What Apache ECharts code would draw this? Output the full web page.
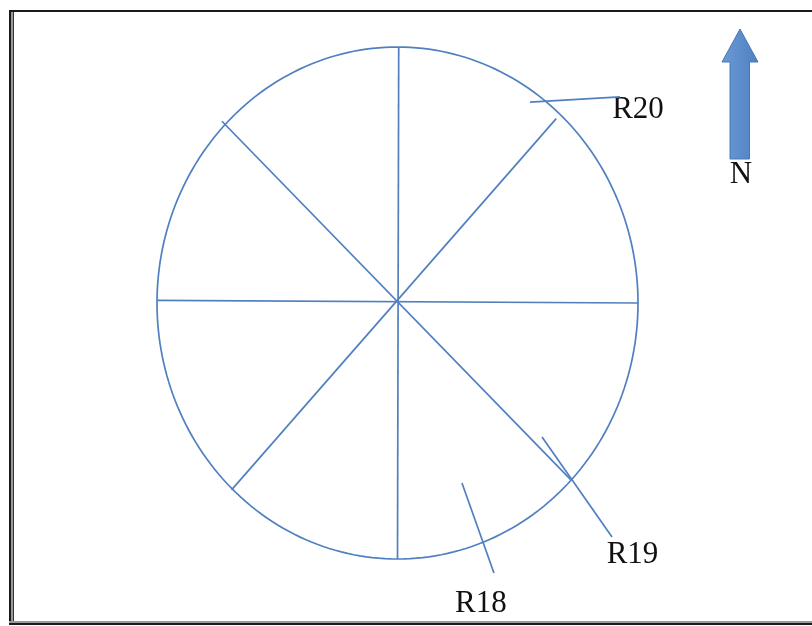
<!DOCTYPE html>
<html>
<head>
<meta charset="utf-8">
<script src="https://cdn.jsdelivr.net/npm/echarts@6/dist/echarts.min.js"></script>
<style>
  html, body { margin: 0; padding: 0; background: #fff; }
  #chart { width: 812px; height: 626px; }
</style>
</head>
<body>
<div id="chart"></div>
<script>
// diagram units: circle centre at 0,0, radius 1 on both axes
var spokes = [
  [[-1, 0.01], [1, 0]],
  [[0.005, 1], [0, -1]],
  [[-0.73, 0.71], [0.72, -0.69]],
  [[0.66, 0.72], [-0.69, -0.73]]
];
var labelNames = ['R20', 'R19', 'R18'];
var labelPoints = [[1.0, 0.754], [0.977, -0.984], [0.347, -1.176]];
var leaders = [
  [[0.551, 0.785], [0.925, 0.805]],
  [[0.601, -0.523], [0.892, -0.914]],
  [[0.268, -0.703], [0.401, -1.055]]
];
var northLabel = 'N';

var myChart = echarts.init(document.getElementById('chart'));
var blue = '#5080c0';

var series = [];
series.push({
  type: 'custom',
  coordinateSystem: 'cartesian2d',
  silent: true,
  clip: false,
  data: [[0, 0]],
  renderItem: function (params, api) {
    var c = api.coord([api.value(0), api.value(1)]);
    var e = api.coord([1, 1]);
    var rx = e[0] - c[0], ry = c[1] - e[1];
    var pts = [];
    for (var i = 0; i < 240; i++) {
      var a = i / 240 * Math.PI * 2;
      pts.push([c[0] + rx * Math.cos(a), c[1] + ry * Math.sin(a)]);
    }
    return {
      type: 'polygon',
      shape: { points: pts },
      style: { fill: 'none', stroke: blue, lineWidth: 1.7 }
    };
  }
});
spokes.concat(leaders).forEach(function (seg) {
  series.push({
    type: 'line',
    data: seg,
    showSymbol: false,
    symbol: 'none',
    clip: false,
    silent: true,
    lineStyle: { color: blue, width: 1.7 }
  });
});
series.push({
  type: 'scatter',
  clip: false,
  silent: true,
  symbolSize: 1,
  itemStyle: { color: 'rgba(0,0,0,0)' },
  data: labelNames.map(function (n, i) {
    return { name: n, value: labelPoints[i] };
  }),
  label: {
    show: true,
    position: 'inside',
    formatter: '{b}',
    color: '#111',
    opacity: 1,
    textBorderWidth: 0,
    fontFamily: 'Liberation Serif',
    fontSize: 31
  }
});

option = {
  backgroundColor: '#fff',
  animation: false,
  grid: { left: 157, top: 47, width: 481, height: 512 },
  xAxis: { type: 'value', min: -1, max: 1, show: false },
  yAxis: { type: 'value', min: -1, max: 1, show: false },
  graphic: [
    // frame
    { type: 'rect', shape: { x: 9, y: 10, width: 803, height: 2 }, style: { fill: '#1a1a1a' } },
    { type: 'rect', shape: { x: 9, y: 10, width: 2, height: 615 }, style: { fill: '#1a1a1a' } },
    { type: 'rect', shape: { x: 11, y: 12, width: 2, height: 611 }, style: { fill: '#9a9a9a' } },
    { type: 'rect', shape: { x: 13, y: 12, width: 1, height: 611 }, style: { fill: '#333' } },
    { type: 'rect', shape: { x: 9, y: 621, width: 803, height: 2 }, style: { fill: '#9a9a9a' } },
    { type: 'rect', shape: { x: 9, y: 623, width: 803, height: 2 }, style: { fill: '#1a1a1a' } },
    // north arrow
    {
      type: 'polygon',
      shape: { points: [[740, 29], [758, 62], [749.5, 62], [749.5, 159], [730, 159], [730, 62], [722, 62]] },
      style: {
        fill: new echarts.graphic.LinearGradient(0, 0, 1, 0, [
          { offset: 0, color: '#6a9ad6' },
          { offset: 1, color: '#4f80c0' }
        ]),
        stroke: '#4a78b4',
        lineWidth: 1
      }
    },
    {
      type: 'text',
      x: 741, y: 175,
      style: { text: northLabel, fill: '#111', font: '31px "Liberation Serif"', textAlign: 'center', textVerticalAlign: 'middle' }
    }
  ],
  series: series
};
myChart.setOption(option);
</script>
</body>
</html>
